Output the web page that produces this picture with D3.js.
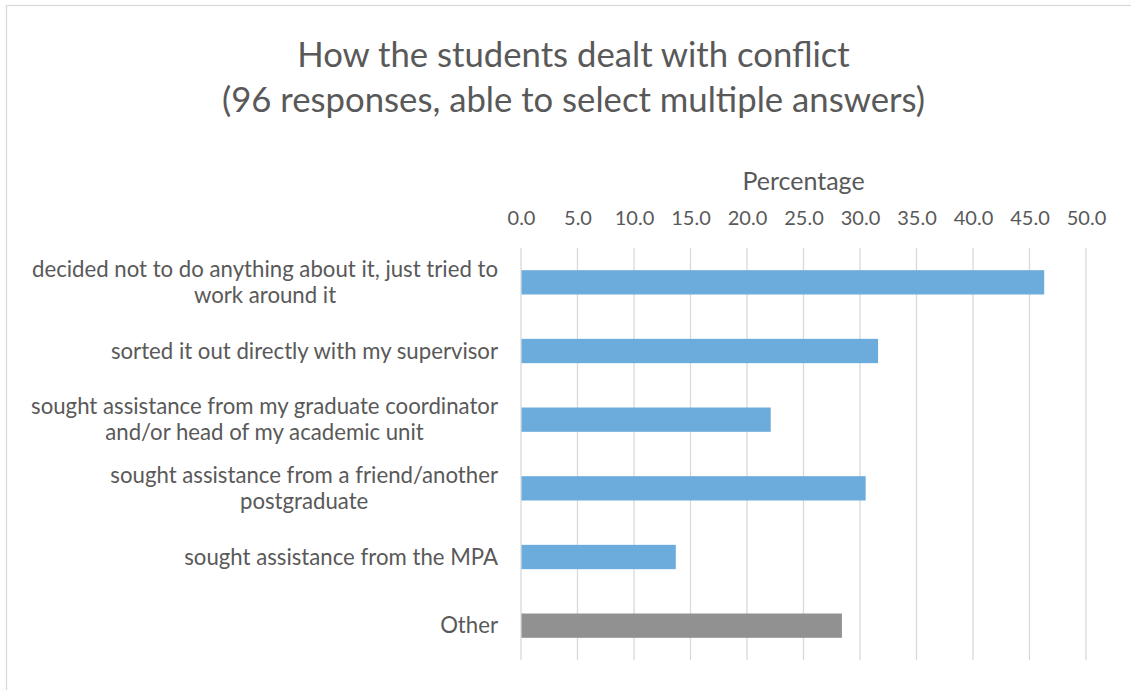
<!DOCTYPE html>
<html>
<head>
<meta charset="utf-8">
<script src="https://cdn.jsdelivr.net/npm/d3@7"></script>
<style>
  body { margin: 0; background: #fff; }
  text { font-family: Lato, "Open Sans", sans-serif; fill: #595959; }
</style>
</head>
<body>
<script>
// categories (line breaks as in the original chart)
var categories = [
  "decided not to do anything about it, just tried to\nwork around it",
  "sorted it out directly with my supervisor",
  "sought assistance from my graduate coordinator\nand/or head of my academic unit",
  "sought assistance from a friend/another\npostgraduate",
  "sought assistance from the MPA",
  "Other"
];
// percentage of respondents
var values = [46.3, 31.6, 22.1, 30.5, 13.7, 28.4];
var barColors = ["#6cacdd", "#6cacdd", "#6cacdd", "#6cacdd", "#6cacdd", "#919191"];
var tickValues = [0, 5, 10, 15, 20, 25, 30, 35, 40, 45, 50];
var titleLines = ["How the students dealt with conflict", "(96 responses, able to select multiple answers)"];
var axisTitle = "Percentage";

var W = 1131, H = 690;
var plot = {left: 521, right: 1086, top: 248, bottom: 660};

var svg = d3.select("body").append("svg")
  .attr("width", W)
  .attr("height", H);

// chart frame
svg.append("rect")
  .attr("x", 6.5).attr("y", 5.5)
  .attr("width", W + 10).attr("height", H + 10)
  .attr("fill", "white")
  .attr("stroke", "#d9d9d9")
  .attr("stroke-width", 1.3);

var x = d3.scaleLinear().domain([0, 50]).range([plot.left, plot.right]);
var y = d3.scaleBand().domain(categories).range([plot.top, plot.bottom])
  .paddingInner(0.646).paddingOuter(0.323);

// title
svg.append("g").selectAll("text")
  .data(titleLines)
  .enter().append("text")
  .attr("x", 573.5)
  .attr("y", function(d, i) { return 67 + i * 45; })
  .attr("text-anchor", "middle")
  .style("font-size", "34.7px")
  .text(function(d) { return d; });

// axis title
svg.append("text")
  .attr("x", (plot.left + plot.right) / 2)
  .attr("y", 190)
  .attr("text-anchor", "middle")
  .style("font-size", "25px")
  .text(axisTitle);

// top axis with gridlines
var xAxis = d3.axisTop(x).tickValues(tickValues).tickFormat(d3.format(".1f")).tickSize(0).tickPadding(0);
var gx = svg.append("g").attr("transform", "translate(0,225)").call(xAxis);
gx.select(".domain").remove();
gx.selectAll("text").style("font-size", "20px").attr("fill", "#595959").attr("font-family", null);

svg.append("g").selectAll("line")
  .data(tickValues)
  .enter().append("line")
  .attr("x1", function(d) { return x(d); })
  .attr("x2", function(d) { return x(d); })
  .attr("y1", plot.top)
  .attr("y2", plot.bottom)
  .attr("stroke", "#d9d9d9")
  .attr("stroke-width", 1.3);

// bars
svg.append("g").selectAll("rect")
  .data(values)
  .enter().append("rect")
  .attr("x", x(0) + 0.5)
  .attr("y", function(d, i) { return y(categories[i]); })
  .attr("width", function(d) { return x(d) - x(0) - 0.5; })
  .attr("height", y.bandwidth())
  .attr("fill", function(d, i) { return barColors[i]; });

// category labels, wrapped lines centred within a right-aligned block
var labelRight = 498;
var lineH = 26;
categories.forEach(function(c) {
  var lines = c.split("\n");
  var cy = y(c) + y.bandwidth() / 2;
  var t = svg.append("text")
    .style("font-size", "22.2px")
    .attr("text-anchor", "middle");
  t.selectAll("tspan")
    .data(lines)
    .enter().append("tspan")
    .attr("y", function(d, i) { return cy + (i - (lines.length - 1) / 2) * lineH + 7.5; })
    .text(function(d) { return d; });
  // block width = widest line, right edge at labelRight
  var widest = 0;
  t.selectAll("tspan").each(function() { widest = Math.max(widest, this.getComputedTextLength()); });
  t.selectAll("tspan").attr("x", labelRight - widest / 2);
});
</script>
</body>
</html>
